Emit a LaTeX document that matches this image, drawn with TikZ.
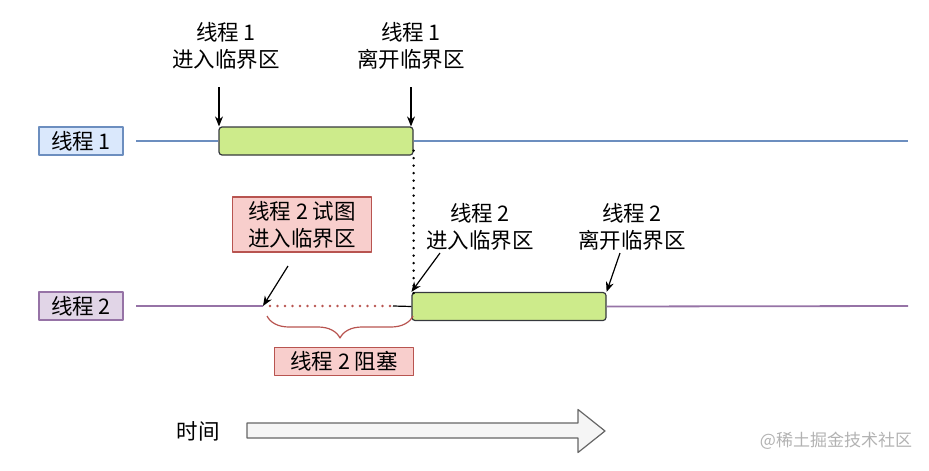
\documentclass[tikz,border=0pt]{standalone}
\usepackage{fontspec}
\setmainfont{Noto Sans CJK SC}
\usetikzlibrary{arrows.meta,decorations.pathreplacing}

\definecolor{blueline}{HTML}{6C8EBF}
\definecolor{bluefill}{HTML}{DAE8FC}
\definecolor{purpleline}{HTML}{9673A6}
\definecolor{purplefill}{HTML}{E1D5E7}
\definecolor{redline}{HTML}{B85450}
\definecolor{redfill}{HTML}{F8CECC}
\definecolor{greenfill}{HTML}{CDEB8B}
\definecolor{greenline}{HTML}{36393D}
\definecolor{timefill}{HTML}{F5F5F5}
\definecolor{timeline}{HTML}{666666}

\begin{document}
\begin{tikzpicture}[x=1pt, y=-1pt, font=\fontsize{21.5}{27}\selectfont, line join=round, >={Stealth[length=10pt,width=8pt]},
	tag/.style 2 args={draw=#1, fill=#2, line width=1.2pt, inner sep=0pt, minimum height=28pt},
	crit/.style={draw=greenline, fill=greenfill, line width=1.2pt, rounded corners=3pt, minimum width=194pt, minimum height=28pt, inner sep=0pt},
	note/.style={align=center, inner sep=0pt},
	lane/.style={draw=#1, line width=1.8pt},
	dots/.style={line width=2.6pt, line cap=round, dash pattern=on 0pt off 7.5pt}]

	\useasboundingbox (0,0) rectangle (929,471);

	% threads
	\node[tag={blueline}{bluefill}, minimum width=84pt] (T1) at (81,141) {线程 1};
	\node[tag={purpleline}{purplefill}, minimum width=84pt] (T2) at (81,306) {线程 2};
	\coordinate (L1s) at (136,141);
	\coordinate (L1e) at (908,141);
	\coordinate (L2s) at (136,306);
	\coordinate (L2e) at (908,306);

	% critical sections
	\node[crit] (C1) at (316,141) {};
	\node[crit] (C2) at (509,306.5) {};
	\draw[lane=blueline] (L1s) -- (C1.west) (C1.east) -- (L1e);
	\draw[lane=purpleline] (L2s) -- (263,306) (C2.east) -- (L2e);

	% waiting
	\coordinate (W1) at (263,306);
	\coordinate (W2) at (393,306);
	\draw[redline, dots] (270,306) -- (W2);
	\draw[line width=1.2pt] (W2) -- (C2.west);
	\draw[dots] ([yshift=5pt]C1.south east) -- (C1.south east |- 0,300);

	% labels thread 1
	\node[note] (N1) at (226,46) {线程 1\\进入临界区};
	\node[note] (N2) at (411,46) {线程 1\\离开临界区};
	\coordinate (A1) at (219,87);
	\coordinate (A2) at (411,87);
	\draw[->, line width=1.2pt] (A1) -- (A1 |- C1.north);
	\draw[->, line width=1.2pt] (A2) -- (A2 |- C1.north);

	% labels thread 2
	\node[tag={redline}{redfill}, minimum width=139pt, minimum height=55pt, align=center] (N3) at (302,224.5) {线程 2 试图\\进入临界区};
	\node[note] (N4) at (480,226.5) {线程 2\\进入临界区};
	\node[note] (N5) at (632,226.5) {线程 2\\离开临界区};
	\coordinate (A3) at (288,266);
	\coordinate (A4) at (440,253);
	\coordinate (A5) at (620,253);
	\draw[->, line width=1.2pt] (A3) -- (W1);
	\draw[->, line width=1.2pt] (A4) -- (C2.north west);
	\draw[->, line width=1.2pt] (A5) -- (C2.north east);

	% blocked
	\draw[redline, line width=1.2pt, decorate, decoration={brace, amplitude=22pt, mirror}] (267,316) -- (413,316);
	\node[tag={redline}{redfill}, minimum width=139pt] (N6) at (344,361.5) {线程 2 阻塞};

	% time
	\node[inner sep=0pt] (TM) at (198,431) {时间};
	\draw[draw=timeline, fill=timefill, line width=1.2pt] (247,423) -- (578,423) -- (578,409.5) -- (605,431) -- (578,452.5) -- (578,438) -- (247,438) -- cycle;

	\node[gray!60, font=\fontsize{17}{20}\selectfont] (WM) at (836,441) {@稀土掘金技术社区};
\end{tikzpicture}
\end{document}
